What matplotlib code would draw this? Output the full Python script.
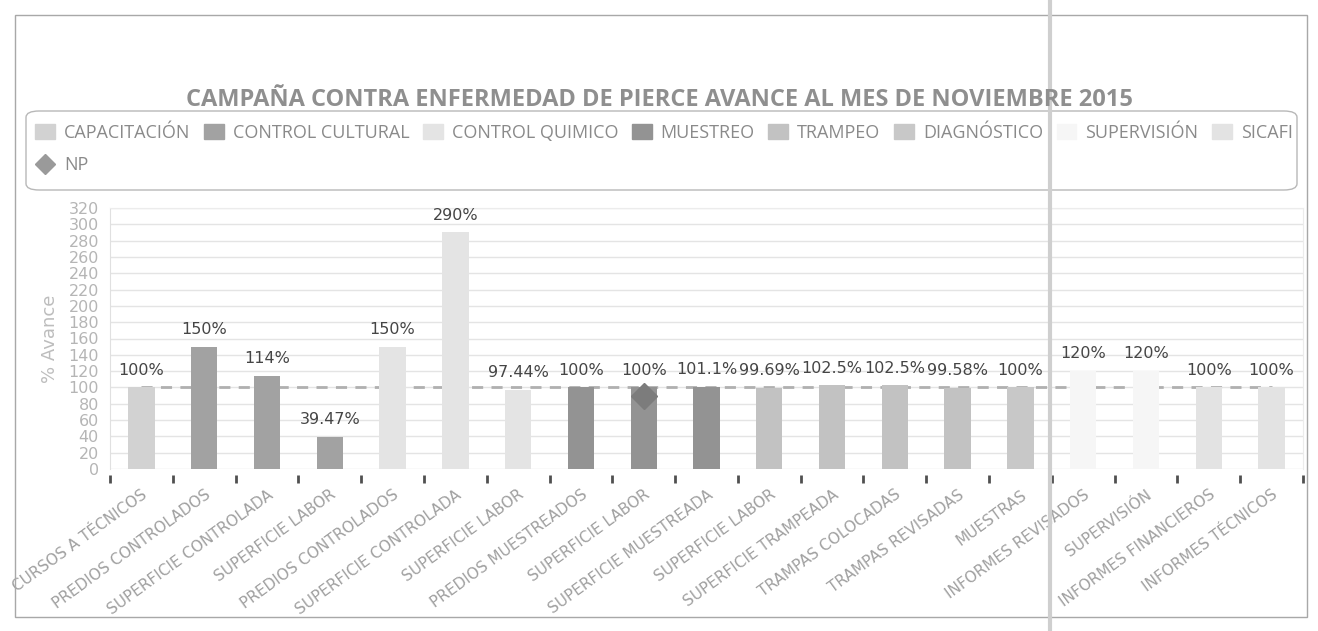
import matplotlib
matplotlib.use('Agg')
import matplotlib.pyplot as plt
import matplotlib.transforms as mtransforms
from matplotlib.patches import Patch, Rectangle, FancyBboxPatch
from matplotlib.lines import Line2D
import numpy as np

# datos
categorias = ['CURSOS A TÉCNICOS', 'PREDIOS CONTROLADOS', 'SUPERFICIE CONTROLADA',
              'SUPERFICIE LABOR', 'PREDIOS CONTROLADOS', 'SUPERFICIE CONTROLADA',
              'SUPERFICIE LABOR', 'PREDIOS MUESTREADOS', 'SUPERFICIE LABOR',
              'SUPERFICIE MUESTREADA', 'SUPERFICIE LABOR', 'SUPERFICIE TRAMPEADA',
              'TRAMPAS COLOCADAS', 'TRAMPAS REVISADAS', 'MUESTRAS',
              'INFORMES REVISADOS', 'SUPERVISIÓN', 'INFORMES FINANCIEROS',
              'INFORMES TÉCNICOS']
avance = [100, 150, 114, 39.47, 150, 290, 97.44, 100, 100, 101.1,
          99.69, 102.5, 102.5, 99.58, 100, 120, 120, 100, 100]
etiquetas = ['100%', '150%', '114%', '39.47%', '150%', '290%', '97.44%', '100%',
             '100%', '101.1%', '99.69%', '102.5%', '102.5%', '99.58%', '100%',
             '120%', '120%', '100%', '100%']
serie_de = ['CAPACITACIÓN', 'CONTROL CULTURAL', 'CONTROL CULTURAL', 'CONTROL CULTURAL',
            'CONTROL QUIMICO', 'CONTROL QUIMICO', 'CONTROL QUIMICO',
            'MUESTREO', 'MUESTREO', 'MUESTREO',
            'TRAMPEO', 'TRAMPEO', 'TRAMPEO', 'TRAMPEO',
            'DIAGNÓSTICO', 'SUPERVISIÓN', 'SUPERVISIÓN', 'SICAFI', 'SICAFI']
meta = [100, 100, 100, 100, 100, 100, 100, 100, 100, 100,
        100, 100, 100, 100, 100, 100, 100, 100, 100]
np_idx = [8]
np_val = [90]

series = ['CAPACITACIÓN', 'CONTROL CULTURAL', 'CONTROL QUIMICO', 'MUESTREO',
          'TRAMPEO', 'DIAGNÓSTICO', 'SUPERVISIÓN', 'SICAFI']
colores = {'CAPACITACIÓN': '#d2d2d2', 'CONTROL CULTURAL': '#a2a2a2',
           'CONTROL QUIMICO': '#e4e4e4', 'MUESTREO': '#939393',
           'TRAMPEO': '#c2c2c2', 'DIAGNÓSTICO': '#c8c8c8',
           'SUPERVISIÓN': '#f6f6f6', 'SICAFI': '#e3e3e3'}

W, H = 1318, 631
fig = plt.figure(figsize=(W/100, H/100), dpi=100)
fig.patch.set_facecolor('white')

ax = fig.add_axes([110/W, 1-469/H, (1303-110)/W, (469-208)/H])
x = np.arange(len(categorias))

ax.plot(x, meta, color='#b0b0b0', lw=2, dashes=(4, 3), zorder=1)
for i in range(len(categorias)):
	ax.bar(x[i], avance[i], width=0.42, color=colores[serie_de[i]], zorder=2)
	ax.annotate(etiquetas[i], (x[i], avance[i]), xytext=(0, 7), textcoords='offset points',
	            ha='center', va='bottom', fontsize=11.5, color='#454545')
ax.plot(np_idx, np_val, linestyle='none', marker='D', markersize=13,
        color='#7c7c7c', zorder=3)

ax.set_xlim(-0.5, len(categorias)-0.5)
ax.set_ylim(0, 320)
ax.set_yticks(np.arange(0, 321, 20))
ax.yaxis.grid(True, color='#e4e4e4', lw=1)
ax.set_axisbelow(True)
ax.tick_params(axis='y', length=0, labelsize=11.5, labelcolor='#b5b5b5', pad=8)
ax.set_ylabel('% Avance', fontsize=13, color='#bdbdbd', labelpad=7)

# ticks pequeños entre categorias, etiquetas giradas a mano
ax.set_xticks([])
ax.set_xticks(np.arange(-0.5, len(categorias), 1), minor=True)
ax.tick_params(axis='x', which='minor', length=6, width=2, color='#505050',
               direction='out', labelbottom=False)
off = mtransforms.ScaledTranslation(0, -0.18, fig.dpi_scale_trans)
for i, cat in enumerate(categorias):
	ax.text(x[i], 0, cat, transform=ax.get_xaxis_transform() + off,
	        rotation=36, rotation_mode='anchor', ha='right', va='top',
	        fontsize=11, color='#a0a0a0', clip_on=False)

for s in ['top', 'right']:
	ax.spines[s].set_color('#ececec')
ax.spines['left'].set_color('#e0e0e0')
ax.spines['bottom'].set_position(('outward', 4))
ax.spines['bottom'].set_color('none')

fig.text(0.5, 1-100/H, 'CAMPAÑA CONTRA ENFERMEDAD DE PIERCE AVANCE AL MES DE NOVIEMBRE 2015',
         ha='center', va='center', fontsize=17, fontweight='bold', color='#8f8f8f',
         family='Open Sans')

# marco de la leyenda
fig.add_artist(FancyBboxPatch((26/W, 1-190/H), (1297-26)/W, (190-111)/H,
                              boxstyle='round,pad=0,rounding_size=0.01',
                              facecolor='none', edgecolor='#b8b8b8', lw=1,
                              transform=fig.transFigure))

handles = [Patch(color=colores[s]) for s in series]
np_handle = Line2D([], [], linestyle='none', marker='D', markersize=10, color='#9a9a9a')
labels = list(series)
handles.insert(1, np_handle)
labels.insert(1, 'NP')
leg = fig.legend(handles, labels, ncol=8, loc='upper left',
                 bbox_to_anchor=(35/W, 1-124/H), bbox_transform=fig.transFigure,
                 frameon=False, handlelength=1.1, handleheight=0.9,
                 handletextpad=0.5, columnspacing=0.75, borderaxespad=0,
                 borderpad=0, labelspacing=0.8,
                 prop={'family': 'Open Sans', 'size': 13})
for t in leg.get_texts():
	t.set_color('#8a8a8a')

fig.add_artist(Rectangle((15/W, 1-617/H), (1307-15)/W, (617-15)/H, fill=False,
                         edgecolor='#a8a8a8', lw=1, transform=fig.transFigure))
fig.add_artist(Line2D([1050/W, 1050/W], [0, 1], color='#cfcfcf', lw=3,
                      transform=fig.transFigure))

fig.savefig('out.png', dpi=100)
